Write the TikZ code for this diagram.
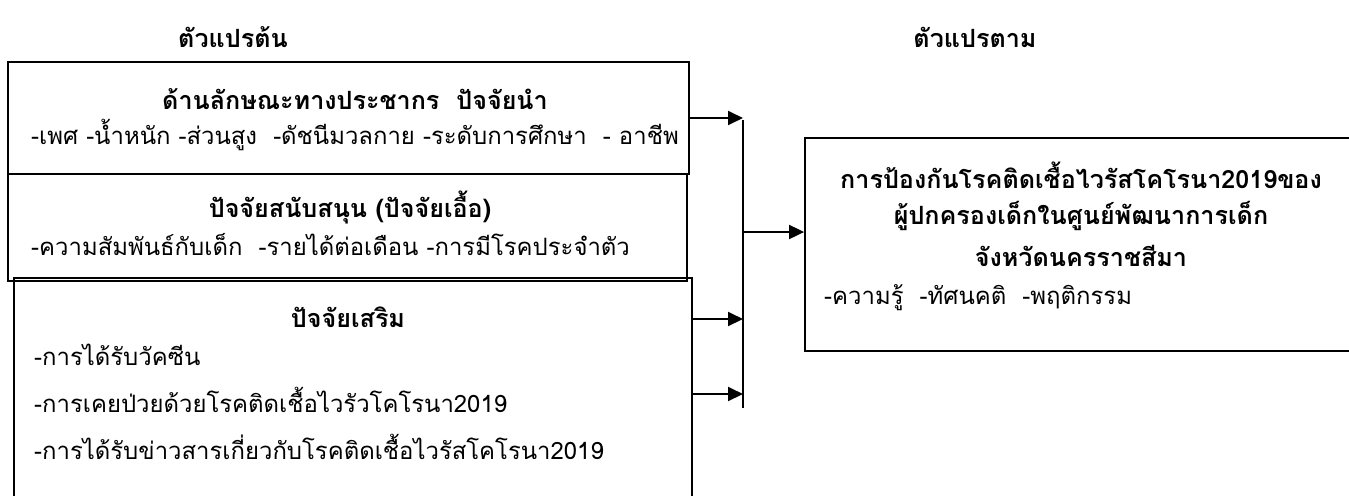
\documentclass[tikz,border=0pt]{standalone}
\usepackage{fontspec}
\setmainfont[Script=Thai]{Loma}
\usetikzlibrary{arrows.meta}

\tikzset{
  frame/.style={draw, line width=1.1pt, inner sep=0pt},
  head/.style={font=\bfseries\fontsize{14.3}{16}\selectfont},
  item/.style={anchor=west, font=\fontsize{13.6}{16}\selectfont},
  tip/.style={-{Triangle[length=3mm,width=2.8mm]}, line width=1.1pt}
}

\begin{document}
\begin{tikzpicture}[x=0.02cm,y=-0.02cm]
\useasboundingbox (0,0) rectangle (1349,495);

\node [head] (indep) at (233,37) {ตัวแปรต้น};
\node [head] (dep) at (975,37) {ตัวแปรตาม};

\node [frame, minimum width=13.62cm, minimum height=2.24cm] (prim) at (348.5,118) {};
\node [frame, minimum width=13.58cm, minimum height=2.14cm] (supp) at (347.5,227.5) {};
\node [frame, minimum width=13.56cm, minimum height=4.84cm] (extra) at (353,399) {};
\node [frame, minimum width=11.9cm, minimum height=4.26cm] (result) at (1102.5,244.5) {};

\node [head] (primhead) at (355,99) {ด้านลักษณะทางประชากร~ ปัจจัยนำ};
\node [item] (primitem) at (25,135) {-เพศ -น้ำหนัก -ส่วนสูง~ -ดัชนีมวลกาย -ระดับการศึกษา~ - อาชีพ};

\node [head] (supphead) at (350,207) {ปัจจัยสนับสนุน (ปัจจัยเอื้อ)};
\node [item] (suppitem) at (25,245) {-ความสัมพันธ์กับเด็ก~ -รายได้ต่อเดือน -การมีโรคประจำตัว};

\node [head] (extrahead) at (348,317) {ปัจจัยเสริม};
\node [item] (vaccine) at (28,355) {-การได้รับวัคซีน};
\node [item] (illness) at (28,400) {-การเคยป่วยด้วยโรคติดเชื้อไวรัวโคโรนา2019};
\node [item] (news) at (28,447) {-การได้รับข่าวสารเกี่ยวกับโรคติดเชื้อไวรัสโคโรนา2019};

\node [head] (res1) at (1081,175) {การป้องกันโรคติดเชื้อไวรัสโคโรนา2019ของ};
\node [head] (res2) at (1081,216) {ผู้ปกครองเด็กในศูนย์พัฒนาการเด็ก};
\node [head] (res3) at (1081,256) {จังหวัดนครราชสีมา};
\node [item] (resitem) at (818,298) {-ความรู้~ -ทัศนคติ~ -พฤติกรรม};

\coordinate (bustop) at (743,120);
\coordinate (busbot) at (743,408);
\coordinate (bus1) at (743,118);
\coordinate (bus2) at (743,232);
\coordinate (bus3) at (743,319);
\coordinate (bus4) at (743,394);

\draw [line width=1.1pt] (bustop) -- (busbot);

\draw [tip] (prim.east |- bus1) -- (bus1);
\draw [tip] (extra.east |- bus3) -- (bus3);
\draw [tip] (extra.east |- bus4) -- (bus4);
\draw [tip] (bus2) -- (result.west |- bus2);

\end{tikzpicture}
\end{document}
